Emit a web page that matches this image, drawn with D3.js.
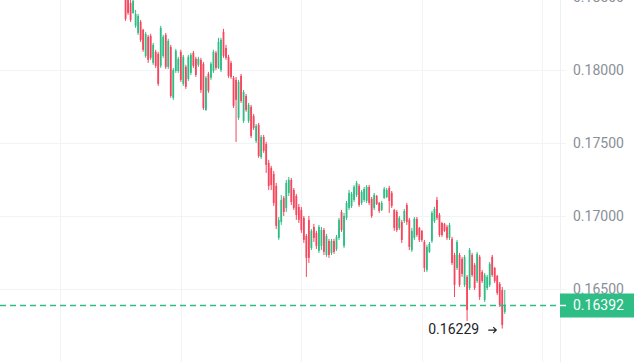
<!DOCTYPE html>
<html>
<head>
<meta charset="utf-8">
<script src="https://cdn.jsdelivr.net/npm/d3@7/dist/d3.min.js"></script>
<style>
  html, body { margin: 0; padding: 0; background: #fff; overflow: hidden; }
  svg { display: block; font-family: Roboto, "Noto Sans", sans-serif; }
</style>
</head>
<body>
<div class="chart"></div>
<script>
// candle values, oldest first
const opens = [
    0.18521, 0.18494, 0.18459, 0.18391, 0.18302, 0.18254, 0.18329, 0.18275, 0.18096, 0.18227,
    0.18233, 0.18048, 0.18124, 0.18110, 0.18028, 0.18096, 0.18240, 0.18021, 0.18158, 0.17809,
    0.17993, 0.17993, 0.18124, 0.17905, 0.18021, 0.17939, 0.17980, 0.18117, 0.18076, 0.18035,
    0.18069, 0.18042, 0.17726, 0.17973, 0.17946, 0.17993, 0.18117, 0.18014, 0.18000, 0.18261,
    0.18151, 0.18090, 0.18048, 0.17946, 0.17932, 0.17672, 0.17959, 0.17651, 0.17822, 0.17651,
    0.17747, 0.17685, 0.17514, 0.17624, 0.17404, 0.17541, 0.17493, 0.17363, 0.17329, 0.17288,
    0.17206, 0.16850, 0.16959, 0.17123, 0.17055, 0.17158, 0.17247, 0.17178, 0.17137, 0.17062,
    0.17041, 0.16987, 0.16863, 0.16973, 0.16781, 0.16925, 0.16884, 0.16761, 0.16795, 0.16904,
    0.16733, 0.16829, 0.16747, 0.16829, 0.16774, 0.16850, 0.17028, 0.16795, 0.16987, 0.17055,
    0.17069, 0.17110, 0.17144, 0.17206, 0.17089, 0.17110, 0.17103, 0.17199, 0.17117, 0.17055,
    0.17137, 0.17089, 0.17041, 0.17123, 0.17130, 0.17192, 0.17158, 0.17041, 0.17028, 0.16918,
    0.16959, 0.16966, 0.17075, 0.16973, 0.16767, 0.16850, 0.16980, 0.16918, 0.16898, 0.16822,
    0.16630, 0.16754, 0.16829, 0.16966, 0.17110, 0.17007, 0.16952, 0.16946, 0.16925, 0.16850,
    0.16843, 0.16733, 0.16644, 0.16733, 0.16706, 0.16528, 0.16583, 0.16507, 0.16733, 0.16665,
    0.16555, 0.16720, 0.16617, 0.16425, 0.16507, 0.16528, 0.16720, 0.16644, 0.16589, 0.16535,
    0.16493, 0.16343
];
const highs = [
    0.18562, 0.18535, 0.18487, 0.18507, 0.18411, 0.18384, 0.18343, 0.18281, 0.18261, 0.18240,
    0.18247, 0.18185, 0.18138, 0.18124, 0.18302, 0.18240, 0.18254, 0.18213, 0.18172, 0.18014,
    0.18144, 0.18090, 0.18138, 0.18103, 0.18035, 0.18103, 0.18117, 0.18131, 0.18090, 0.18090,
    0.18083, 0.18055, 0.17959, 0.17987, 0.18055, 0.18138, 0.18131, 0.18220, 0.18220, 0.18281,
    0.18172, 0.18103, 0.18062, 0.17959, 0.17952, 0.17932, 0.17973, 0.17863, 0.17836, 0.17774,
    0.17761, 0.17699, 0.17631, 0.17637, 0.17555, 0.17555, 0.17507, 0.17384, 0.17343, 0.17308,
    0.17226, 0.16993, 0.17144, 0.17137, 0.17247, 0.17267, 0.17260, 0.17192, 0.17151, 0.17082,
    0.17062, 0.17000, 0.16877, 0.17000, 0.16911, 0.16946, 0.16898, 0.16939, 0.16925, 0.16918,
    0.16877, 0.16843, 0.16843, 0.16843, 0.16870, 0.16987, 0.17041, 0.17021, 0.17103, 0.17178,
    0.17165, 0.17212, 0.17240, 0.17219, 0.17178, 0.17199, 0.17212, 0.17212, 0.17130, 0.17158,
    0.17144, 0.17096, 0.17103, 0.17199, 0.17192, 0.17206, 0.17171, 0.17048, 0.17041, 0.17000,
    0.16973, 0.17048, 0.17089, 0.16987, 0.16918, 0.16993, 0.16993, 0.16925, 0.16904, 0.16836,
    0.16802, 0.16822, 0.17034, 0.17062, 0.17130, 0.17021, 0.16959, 0.16952, 0.16939, 0.16952,
    0.16857, 0.16747, 0.16836, 0.16747, 0.16720, 0.16733, 0.16596, 0.16781, 0.16747, 0.16678,
    0.16754, 0.16733, 0.16630, 0.16610, 0.16596, 0.16685, 0.16733, 0.16651, 0.16596, 0.16548,
    0.16514, 0.16493
];
const lows = [
    0.18336, 0.18377, 0.18329, 0.18384, 0.18288, 0.18240, 0.18192, 0.18124, 0.18083, 0.18048,
    0.18069, 0.18035, 0.18014, 0.17891, 0.18014, 0.18083, 0.18007, 0.18007, 0.17809, 0.17795,
    0.17980, 0.17980, 0.17918, 0.17891, 0.17870, 0.17925, 0.17966, 0.18014, 0.17952, 0.18021,
    0.17843, 0.17726, 0.17720, 0.17843, 0.17932, 0.17980, 0.18000, 0.18007, 0.17987, 0.18083,
    0.18069, 0.17946, 0.17939, 0.17740, 0.17507, 0.17658, 0.17774, 0.17637, 0.17713, 0.17637,
    0.17534, 0.17589, 0.17500, 0.17398, 0.17391, 0.17432, 0.17295, 0.17178, 0.17178, 0.17069,
    0.16911, 0.16836, 0.16939, 0.17000, 0.17028, 0.17137, 0.17075, 0.17041, 0.16973, 0.16952,
    0.16884, 0.16815, 0.16583, 0.16678, 0.16767, 0.16822, 0.16774, 0.16747, 0.16767, 0.16733,
    0.16720, 0.16713, 0.16733, 0.16740, 0.16761, 0.16836, 0.16891, 0.16781, 0.16973, 0.17041,
    0.17055, 0.17096, 0.17130, 0.17062, 0.17075, 0.17096, 0.17089, 0.17075, 0.16987, 0.17041,
    0.17075, 0.17021, 0.17034, 0.17117, 0.17123, 0.17021, 0.17055, 0.16898, 0.16891, 0.16904,
    0.16815, 0.16952, 0.16939, 0.16767, 0.16754, 0.16836, 0.16857, 0.16822, 0.16822, 0.16617,
    0.16617, 0.16747, 0.16815, 0.16952, 0.16973, 0.16857, 0.16857, 0.16891, 0.16836, 0.16836,
    0.16665, 0.16445, 0.16630, 0.16514, 0.16583, 0.16514, 0.16281, 0.16493, 0.16583, 0.16493,
    0.16541, 0.16425, 0.16541, 0.16411, 0.16493, 0.16514, 0.16583, 0.16541, 0.16459, 0.16377,
    0.16229, 0.16329
];
const closes = [
    0.18350, 0.18391, 0.18343, 0.18473, 0.18384, 0.18370, 0.18206, 0.18138, 0.18247, 0.18069,
    0.18083, 0.18172, 0.18028, 0.17905, 0.18288, 0.18227, 0.18021, 0.18199, 0.17822, 0.18000,
    0.18131, 0.18076, 0.17932, 0.18090, 0.17884, 0.18090, 0.18103, 0.18028, 0.17966, 0.18076,
    0.17863, 0.17740, 0.17946, 0.17857, 0.18042, 0.18124, 0.18014, 0.18192, 0.18206, 0.18096,
    0.18083, 0.17959, 0.17952, 0.17754, 0.17795, 0.17918, 0.17788, 0.17850, 0.17726, 0.17761,
    0.17548, 0.17603, 0.17617, 0.17411, 0.17541, 0.17446, 0.17350, 0.17206, 0.17212, 0.17089,
    0.16932, 0.16973, 0.17110, 0.17028, 0.17226, 0.17247, 0.17096, 0.17055, 0.17007, 0.16973,
    0.16904, 0.16836, 0.16713, 0.16713, 0.16898, 0.16850, 0.16795, 0.16925, 0.16904, 0.16754,
    0.16863, 0.16733, 0.16829, 0.16754, 0.16857, 0.16973, 0.16904, 0.17000, 0.17089, 0.17158,
    0.17151, 0.17199, 0.17226, 0.17075, 0.17165, 0.17185, 0.17199, 0.17089, 0.17000, 0.17144,
    0.17082, 0.17034, 0.17089, 0.17185, 0.17178, 0.17103, 0.17069, 0.16918, 0.16904, 0.16987,
    0.16836, 0.17034, 0.16959, 0.16788, 0.16898, 0.16980, 0.16870, 0.16836, 0.16836, 0.16644,
    0.16788, 0.16809, 0.17021, 0.17048, 0.16987, 0.16870, 0.16870, 0.16898, 0.16850, 0.16939,
    0.16678, 0.16528, 0.16822, 0.16528, 0.16603, 0.16720, 0.16356, 0.16767, 0.16596, 0.16507,
    0.16740, 0.16445, 0.16555, 0.16596, 0.16583, 0.16672, 0.16596, 0.16555, 0.16473, 0.16391,
    0.16254, 0.16392
];

// price ticks on the right axis, time grid lines as candle index
const yTicks = [0.165, 0.170, 0.175, 0.180, 0.185];
const timeGrid = [-26, 22, 70, 118, 166];

// size of the chart
const w = 634, h = 362;
const plotRight = 560;
const upColor = "#2ebd85", downColor = "#f6465d";

// scales: visible window in candle index and in price
const xScale = d3.scaleLinear().domain([-50, 173]).range([0, plotRight]);
const yScale = d3.scaleLinear().domain([0.16, 0.18479]).range([h, 0]);
const fmt = d3.format(".5f");

const candles = closes.map((c, i) => ({ i: i, o: opens[i], h: highs[i], l: lows[i], c: c }));

const svg = d3.select("div.chart")
    .append("svg")
    .attr("width", w)
    .attr("height", h);

// grid
svg.append("g")
    .selectAll("line")
    .data(yTicks)
    .enter()
    .append("line")
    .attr("x1", 0)
    .attr("x2", plotRight + 6)
    .attr("y1", d => Math.round(yScale(d)) + 0.5)
    .attr("y2", d => Math.round(yScale(d)) + 0.5)
    .attr("stroke", "#f2f3f5");

svg.append("g")
    .selectAll("line")
    .data(timeGrid)
    .enter()
    .append("line")
    .attr("x1", d => Math.round(xScale(d)) + 0.5)
    .attr("x2", d => Math.round(xScale(d)) + 0.5)
    .attr("y1", 0)
    .attr("y2", h)
    .attr("stroke", "#f2f3f5");

svg.append("line")
    .attr("x1", plotRight + 0.5)
    .attr("x2", plotRight + 0.5)
    .attr("y1", 0)
    .attr("y2", h)
    .attr("stroke", "#eef0f3");

// candles
const g = svg.append("g");
g.selectAll("line.wick")
    .data(candles)
    .enter()
    .append("line")
    .attr("class", "wick")
    .attr("x1", d => xScale(d.i))
    .attr("x2", d => xScale(d.i))
    .attr("y1", d => yScale(d.h))
    .attr("y2", d => yScale(d.l))
    .attr("stroke", d => d.c >= d.o ? upColor : downColor)
    .attr("stroke-width", 1);

g.selectAll("rect.body")
    .data(candles)
    .enter()
    .append("rect")
    .attr("class", "body")
    .attr("x", d => xScale(d.i) - 0.9)
    .attr("width", 1.8)
    .attr("y", d => yScale(Math.max(d.o, d.c)))
    .attr("height", d => Math.max(1, Math.abs(yScale(d.o) - yScale(d.c))))
    .attr("fill", d => d.c >= d.o ? upColor : downColor);

// right axis labels
svg.append("g")
    .selectAll("text")
    .data(yTicks)
    .enter()
    .append("text")
    .attr("x", 573)
    .attr("y", d => yScale(d))
    .attr("dy", "0.35em")
    .attr("font-size", 14)
    .attr("fill", "#8a8f98")
    .text(d => fmt(d));

// last price line and label
const last = closes[closes.length - 1];
const yLast = Math.round(yScale(last)) + 0.5;
svg.append("line")
    .attr("x1", 0)
    .attr("x2", plotRight)
    .attr("y1", yLast)
    .attr("y2", yLast)
    .attr("stroke", upColor)
    .attr("stroke-width", 1.5)
    .attr("stroke-dasharray", "6,4");

svg.append("rect")
    .attr("x", plotRight)
    .attr("y", yLast - 12)
    .attr("width", w - plotRight)
    .attr("height", 24)
    .attr("fill", upColor);

svg.append("line")
    .attr("x1", plotRight)
    .attr("x2", plotRight + 6)
    .attr("y1", yLast)
    .attr("y2", yLast)
    .attr("stroke", "#fff")
    .attr("stroke-width", 1.5);

svg.append("text")
    .attr("x", 573)
    .attr("y", yLast)
    .attr("dy", "0.35em")
    .attr("font-size", 14)
    .attr("fill", "#fff")
    .text(fmt(last));

// lowest low marker
const lowIdx = d3.minIndex(lows);
const lx = xScale(lowIdx), ly = yScale(lows[lowIdx]);
svg.append("text")
    .attr("x", lx - 74)
    .attr("y", ly + 5)
    .attr("font-size", 14)
    .attr("fill", "#1e2329")
    .text(fmt(lows[lowIdx]));

svg.append("path")
    .attr("d", `M${lx - 14},${ly + 1.5}H${lx - 6}M${lx - 9},${ly - 1.5}L${lx - 6},${ly + 1.5}L${lx - 9},${ly + 4.5}`)
    .attr("fill", "none")
    .attr("stroke", "#1e2329")
    .attr("stroke-width", 1.2);
</script>
</body>
</html>
